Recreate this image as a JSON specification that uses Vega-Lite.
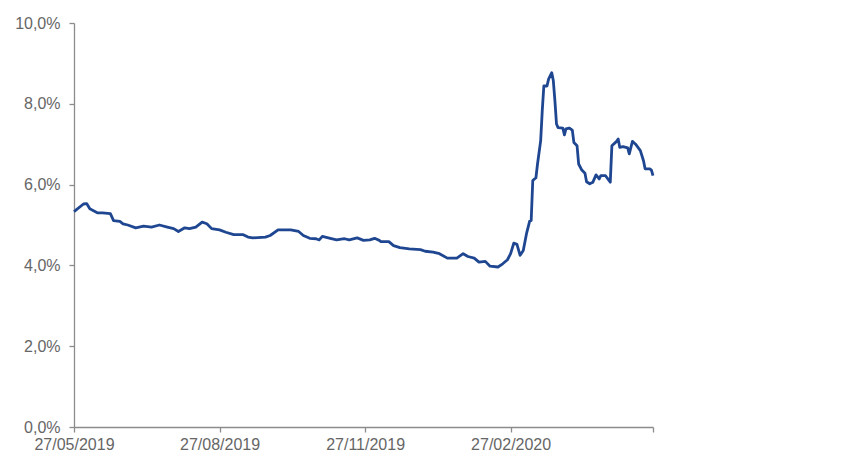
{
  "$schema": "https://vega.github.io/schema/vega-lite/v6.json",
  "width": 579,
  "height": 404,
  "autosize": {"type": "none"},
  "padding": {"left": 74, "top": 23, "right": 214, "bottom": 37},
  "background": "white",
  "config": {"view": {"stroke": null}},
  "data": {"values": [
    {"date": "2019-05-27", "v": 0.0533},
    {"date": "2019-06-02", "v": 0.0552},
    {"date": "2019-06-04", "v": 0.0553},
    {"date": "2019-06-06", "v": 0.0540},
    {"date": "2019-06-11", "v": 0.0530},
    {"date": "2019-06-14", "v": 0.0530},
    {"date": "2019-06-19", "v": 0.0528},
    {"date": "2019-06-21", "v": 0.0511},
    {"date": "2019-06-25", "v": 0.0509},
    {"date": "2019-06-27", "v": 0.0503},
    {"date": "2019-06-30", "v": 0.0500},
    {"date": "2019-07-05", "v": 0.0493},
    {"date": "2019-07-10", "v": 0.0497},
    {"date": "2019-07-15", "v": 0.0495},
    {"date": "2019-07-20", "v": 0.0500},
    {"date": "2019-07-25", "v": 0.0495},
    {"date": "2019-07-29", "v": 0.0491},
    {"date": "2019-08-01", "v": 0.0484},
    {"date": "2019-08-05", "v": 0.0493},
    {"date": "2019-08-08", "v": 0.0491},
    {"date": "2019-08-12", "v": 0.0495},
    {"date": "2019-08-16", "v": 0.0507},
    {"date": "2019-08-19", "v": 0.0503},
    {"date": "2019-08-22", "v": 0.0491},
    {"date": "2019-08-27", "v": 0.0488},
    {"date": "2019-08-31", "v": 0.0482},
    {"date": "2019-09-05", "v": 0.0476},
    {"date": "2019-09-11", "v": 0.0476},
    {"date": "2019-09-14", "v": 0.0470},
    {"date": "2019-09-17", "v": 0.0468},
    {"date": "2019-09-25", "v": 0.0470},
    {"date": "2019-09-28", "v": 0.0474},
    {"date": "2019-10-03", "v": 0.0488},
    {"date": "2019-10-08", "v": 0.0488},
    {"date": "2019-10-11", "v": 0.0488},
    {"date": "2019-10-16", "v": 0.0484},
    {"date": "2019-10-19", "v": 0.0474},
    {"date": "2019-10-23", "v": 0.0467},
    {"date": "2019-10-27", "v": 0.0466},
    {"date": "2019-10-29", "v": 0.0463},
    {"date": "2019-10-31", "v": 0.0472},
    {"date": "2019-11-05", "v": 0.0467},
    {"date": "2019-11-09", "v": 0.0463},
    {"date": "2019-11-14", "v": 0.0466},
    {"date": "2019-11-17", "v": 0.0463},
    {"date": "2019-11-22", "v": 0.0468},
    {"date": "2019-11-26", "v": 0.0462},
    {"date": "2019-11-30", "v": 0.0463},
    {"date": "2019-12-03", "v": 0.0467},
    {"date": "2019-12-06", "v": 0.0462},
    {"date": "2019-12-07", "v": 0.0459},
    {"date": "2019-12-12", "v": 0.0459},
    {"date": "2019-12-15", "v": 0.0449},
    {"date": "2019-12-19", "v": 0.0444},
    {"date": "2019-12-25", "v": 0.0441},
    {"date": "2020-01-01", "v": 0.0439},
    {"date": "2020-01-04", "v": 0.0435},
    {"date": "2020-01-09", "v": 0.0433},
    {"date": "2020-01-13", "v": 0.0429},
    {"date": "2020-01-18", "v": 0.0418},
    {"date": "2020-01-24", "v": 0.0418},
    {"date": "2020-01-28", "v": 0.0429},
    {"date": "2020-01-31", "v": 0.0422},
    {"date": "2020-02-04", "v": 0.0418},
    {"date": "2020-02-07", "v": 0.0408},
    {"date": "2020-02-11", "v": 0.0410},
    {"date": "2020-02-14", "v": 0.0398},
    {"date": "2020-02-19", "v": 0.0396},
    {"date": "2020-02-22", "v": 0.0404},
    {"date": "2020-02-25", "v": 0.0414},
    {"date": "2020-02-27", "v": 0.0429},
    {"date": "2020-02-29", "v": 0.0455},
    {"date": "2020-03-02", "v": 0.0452},
    {"date": "2020-03-04", "v": 0.0425},
    {"date": "2020-03-06", "v": 0.0437},
    {"date": "2020-03-08", "v": 0.0478},
    {"date": "2020-03-10", "v": 0.0509},
    {"date": "2020-03-11", "v": 0.0511},
    {"date": "2020-03-12", "v": 0.0610},
    {"date": "2020-03-14", "v": 0.0617},
    {"date": "2020-03-15", "v": 0.0651},
    {"date": "2020-03-17", "v": 0.0709},
    {"date": "2020-03-18", "v": 0.0783},
    {"date": "2020-03-19", "v": 0.0844},
    {"date": "2020-03-21", "v": 0.0844},
    {"date": "2020-03-22", "v": 0.0861},
    {"date": "2020-03-24", "v": 0.0877},
    {"date": "2020-03-25", "v": 0.0857},
    {"date": "2020-03-26", "v": 0.0807},
    {"date": "2020-03-27", "v": 0.0750},
    {"date": "2020-03-28", "v": 0.0741},
    {"date": "2020-03-31", "v": 0.0740},
    {"date": "2020-04-01", "v": 0.0723},
    {"date": "2020-04-02", "v": 0.0738},
    {"date": "2020-04-04", "v": 0.0740},
    {"date": "2020-04-06", "v": 0.0735},
    {"date": "2020-04-07", "v": 0.0704},
    {"date": "2020-04-09", "v": 0.0696},
    {"date": "2020-04-10", "v": 0.0651},
    {"date": "2020-04-12", "v": 0.0636},
    {"date": "2020-04-14", "v": 0.0628},
    {"date": "2020-04-15", "v": 0.0607},
    {"date": "2020-04-17", "v": 0.0602},
    {"date": "2020-04-19", "v": 0.0606},
    {"date": "2020-04-21", "v": 0.0624},
    {"date": "2020-04-23", "v": 0.0614},
    {"date": "2020-04-24", "v": 0.0622},
    {"date": "2020-04-27", "v": 0.0622},
    {"date": "2020-04-30", "v": 0.0606},
    {"date": "2020-05-01", "v": 0.0696},
    {"date": "2020-05-04", "v": 0.0707},
    {"date": "2020-05-05", "v": 0.0713},
    {"date": "2020-05-06", "v": 0.0692},
    {"date": "2020-05-08", "v": 0.0694},
    {"date": "2020-05-11", "v": 0.0691},
    {"date": "2020-05-12", "v": 0.0676},
    {"date": "2020-05-14", "v": 0.0707},
    {"date": "2020-05-16", "v": 0.0700},
    {"date": "2020-05-19", "v": 0.0684},
    {"date": "2020-05-21", "v": 0.0659},
    {"date": "2020-05-22", "v": 0.0639},
    {"date": "2020-05-25", "v": 0.0639},
    {"date": "2020-05-26", "v": 0.0636},
    {"date": "2020-05-27", "v": 0.0622}
  ]},
  "mark": {"type": "line", "color": "#1f4691", "strokeWidth": 2.8, "strokeJoin": "round"},
  "encoding": {
    "x": {
      "field": "date",
      "type": "temporal",
      "scale": {
        "type": "utc",
        "domain": [
          {"year": 2019, "month": 5, "date": 27, "utc": true},
          {"year": 2020, "month": 5, "date": 27, "utc": true}
        ]
      },
      "axis": {
        "title": null,
        "grid": false,
        "values": [
          {"year": 2019, "month": 5, "date": 27, "utc": true},
          {"year": 2019, "month": 8, "date": 27, "utc": true},
          {"year": 2019, "month": 11, "date": 27, "utc": true},
          {"year": 2020, "month": 2, "date": 27, "utc": true},
          {"year": 2020, "month": 5, "date": 27, "utc": true}
        ],
        "labelExpr": "datum.value >= datetime(2020, 4, 1) ? '' : utcFormat(datum.value, '%d/%m/%Y')",
        "labelFont": "Liberation Sans",
        "labelFontSize": 16,
        "labelColor": "#666666",
        "labelPadding": 4,
        "labelOverlap": false,
        "labelFlush": false,
        "domainColor": "#8c8c8c",
        "domainWidth": 1.3,
        "tickColor": "#8c8c8c",
        "tickSize": 5,
        "tickWidth": 1.3
      }
    },
    "y": {
      "field": "v",
      "type": "quantitative",
      "scale": {"domain": [0, 0.1], "nice": false, "zero": true},
      "axis": {
        "title": null,
        "grid": false,
        "values": [0, 0.02, 0.04, 0.06, 0.08, 0.1],
        "labelExpr": "replace(format(datum.value, '.1%'), '.', ',')",
        "labelFont": "Liberation Sans",
        "labelFontSize": 16,
        "labelColor": "#666666",
        "labelPadding": 9,
        "domainColor": "#8c8c8c",
        "domainWidth": 1.3,
        "tickColor": "#8c8c8c",
        "tickSize": 5,
        "tickWidth": 1.3
      }
    }
  }
}
